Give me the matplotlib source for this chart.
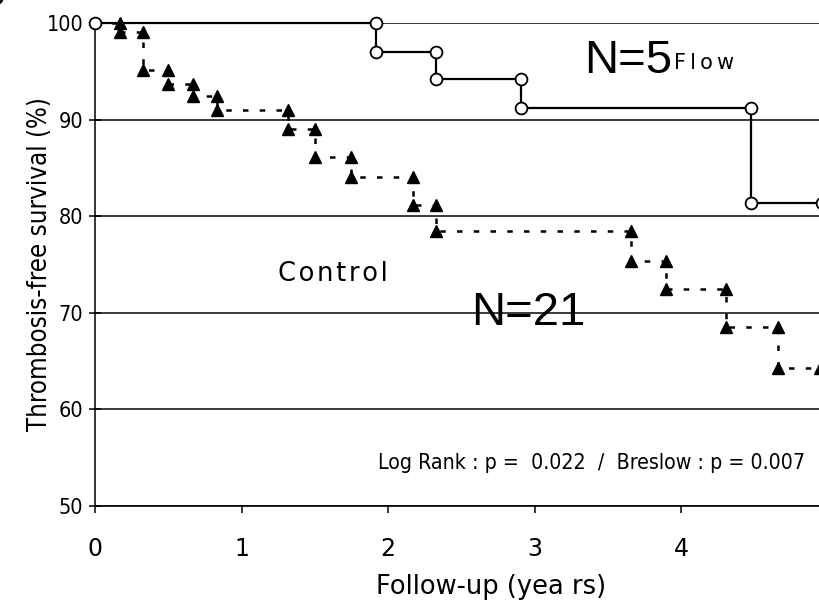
import numpy as np
import matplotlib
matplotlib.use("Agg")
import matplotlib.pyplot as plt

# Kaplan-Meier data (years, % thrombosis-free)
flow_times = [0, 1.92, 2.33, 2.91, 4.48]
flow_surv = [100, 97.0, 94.2, 91.2, 81.4]
flow_end = 4.96

control_times = [0, 0.17, 0.33, 0.50, 0.67, 0.83, 1.32, 1.50, 1.75, 2.17,
                 2.33, 3.66, 3.90, 4.31, 4.66]
control_surv = [100, 99.1, 95.1, 93.7, 92.4, 91.0, 89.0, 86.1, 84.1, 81.2,
                78.5, 75.4, 72.5, 68.5, 64.3]
control_end = 4.95

xticks = [0, 1, 2, 3, 4, 5]
yticks = [50, 60, 70, 80, 90, 100]


def km_corners(times, surv, end):
    # step corners: old level and new level at every event, plus the end
    xs, ys = [times[0]], [surv[0]]
    for i in range(1, len(times)):
        xs += [times[i], times[i]]
        ys += [surv[i - 1], surv[i]]
    xs.append(end)
    ys.append(surv[-1])
    return xs, ys


fig = plt.figure(figsize=(8.2, 6.08), dpi=100)
ax = fig.add_axes([0.1159, 0.1678, 0.8933, 0.7944])

# control group: dashed steps with filled triangles
cx = list(control_times) + [control_end]
cy = list(control_surv) + [control_surv[-1]]
ax.plot(cx, cy, drawstyle='steps-post', color='black', lw=1.8,
        dashes=(2.2, 4.5), zorder=3)
mx, my = km_corners(control_times, control_surv, control_end)
ax.plot(mx[1:], my[1:], ls='none', marker='^', ms=8, color='black',
        zorder=4, clip_on=False)

# flow group: solid steps with open circles
fx = list(flow_times) + [flow_end]
fy = list(flow_surv) + [flow_surv[-1]]
ax.plot(fx, fy, drawstyle='steps-post', color='black', lw=1.6, zorder=5,
        clip_on=False)
mx, my = km_corners(flow_times, flow_surv, flow_end)
ax.plot(mx, my, ls='none', marker='o', ms=8.5, mfc='white', mec='black',
        mew=1.3, zorder=6, clip_on=False)

ax.set_xlim(0, 5)
ax.set_ylim(50, 100)
ax.set_xticks(xticks)
ax.set_yticks(yticks)
ax.yaxis.grid(True, color='#1a1a1a', lw=1.2)
ax.set_axisbelow(True)

for s in ['top', 'right']:
    ax.spines[s].set_visible(False)
ax.spines['left'].set_linewidth(1.1)
ax.spines['bottom'].set_linewidth(1.2)

ax.tick_params(axis='y', direction='inout', length=9, width=1.1, pad=4,
               labelsize=15.5)
ax.tick_params(axis='x', direction='out', length=5, width=1.1, pad=17,
               labelsize=17)
for lab in ax.get_yticklabels():
    lab.set_fontstretch('condensed')

ax.set_ylabel('Thrombosis-free survival (%)', fontsize=18.5,
              fontstretch='condensed')
ax.yaxis.set_label_coords(-0.058, 0.5)
ax.set_xlabel('Follow-up (yea rs)', fontsize=18.5)
ax.xaxis.set_label_coords(0.541, -0.141)

ax.text(3.64, 96.1, 'N=5', fontsize=34, family='Liberation Sans',
        ha='center', va='center')
ax.text(3.95, 95.9, 'F\u2009l\u2009o\u2009w', fontsize=15, ha='left',
        va='center')
ax.text(2.96, 70.0, 'N=21', fontsize=34, family='Liberation Sans',
        ha='center', va='center')
ax.text(1.25, 74.0, 'C\u200ao\u200an\u200at\u200ar\u200ao\u200al',
        fontsize=18.5, ha='left', va='center')
ax.text(4.85, 54.4, 'Log Rank : p =  0.022  /  Breslow : p = 0.007',
        fontsize=15.3, fontstretch='condensed', ha='right', va='center')

# cropped panel letter at top-left
fig.text(-0.006, 1.005, 'b', fontsize=22, ha='center', va='center')

fig.savefig('out.png', dpi=100)
